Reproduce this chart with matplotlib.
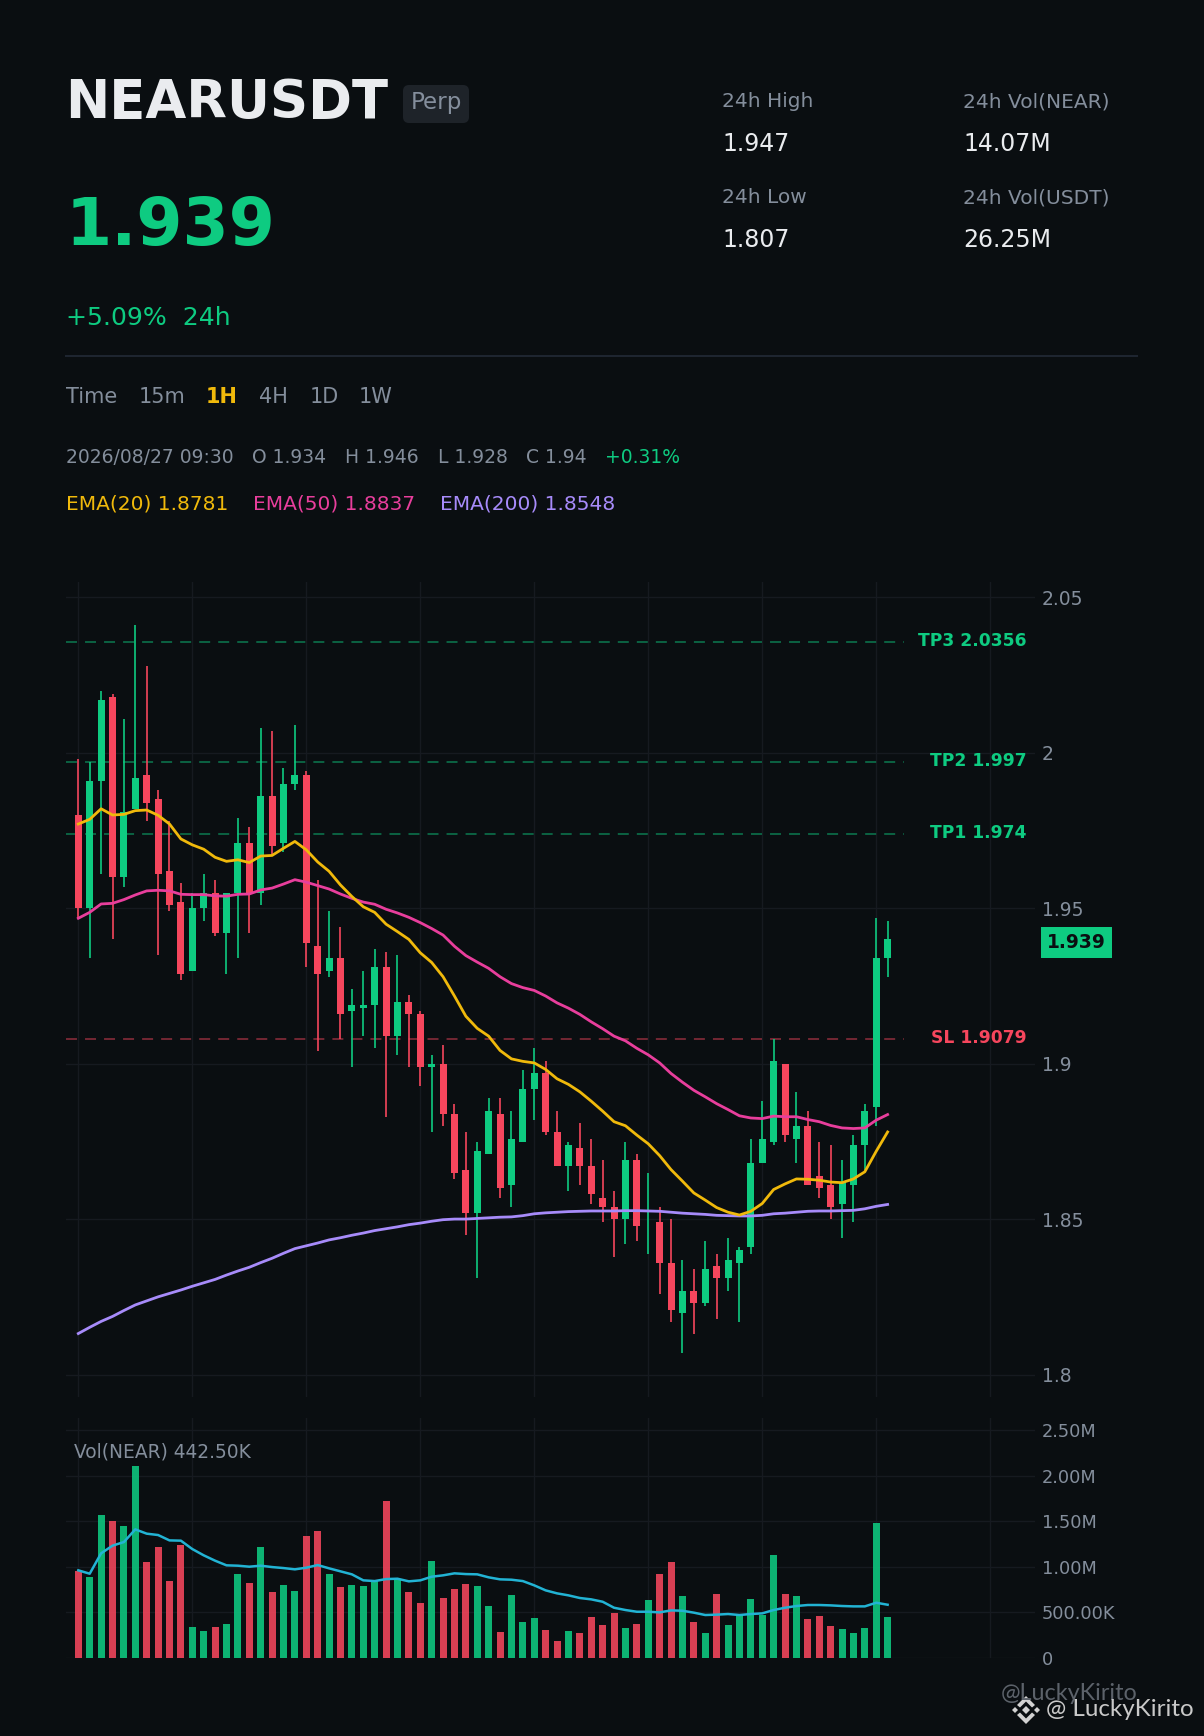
import matplotlib
matplotlib.use('Agg')
import matplotlib.pyplot as plt
from matplotlib.patches import FancyBboxPatch, Polygon, Rectangle

# candles, oldest first
opens = [1.980, 1.950, 1.991, 2.018, 1.960, 1.982, 1.993, 1.985, 1.962, 1.952, 1.930, 1.950,
         1.955, 1.942, 1.955, 1.971, 1.955, 1.986, 1.971, 1.990, 1.993, 1.938, 1.930, 1.934,
         1.917, 1.918, 1.919, 1.931, 1.909, 1.920, 1.916, 1.899, 1.900, 1.884, 1.866, 1.852,
         1.871, 1.884, 1.861, 1.875, 1.892, 1.897, 1.878, 1.867, 1.873, 1.867, 1.857, 1.854,
         1.850, 1.869, 1.848, 1.849, 1.836, 1.820, 1.827, 1.823, 1.835, 1.831, 1.836, 1.841,
         1.868, 1.875, 1.900, 1.876, 1.880, 1.864, 1.861, 1.855, 1.861, 1.874, 1.886, 1.934]
highs = [1.998, 1.997, 2.020, 2.019, 2.011, 2.041, 2.028, 1.988, 1.978, 1.958, 1.955, 1.961,
         1.959, 1.955, 1.979, 1.976, 2.008, 2.007, 1.995, 2.009, 1.994, 1.959, 1.949, 1.944,
         1.924, 1.930, 1.937, 1.936, 1.935, 1.922, 1.917, 1.903, 1.906, 1.887, 1.878, 1.875,
         1.889, 1.889, 1.885, 1.898, 1.905, 1.901, 1.885, 1.875, 1.881, 1.876, 1.869, 1.859,
         1.875, 1.871, 1.865, 1.854, 1.850, 1.837, 1.834, 1.843, 1.839, 1.844, 1.841, 1.876,
         1.888, 1.908, 1.900, 1.891, 1.885, 1.875, 1.874, 1.869, 1.877, 1.887, 1.947, 1.946]
lows = [1.947, 1.934, 1.961, 1.940, 1.957, 1.982, 1.978, 1.935, 1.949, 1.927, 1.930, 1.946,
        1.941, 1.929, 1.934, 1.942, 1.951, 1.967, 1.968, 1.988, 1.931, 1.904, 1.928, 1.908,
        1.899, 1.909, 1.905, 1.883, 1.903, 1.899, 1.893, 1.878, 1.880, 1.863, 1.845, 1.831,
        1.871, 1.857, 1.854, 1.875, 1.882, 1.877, 1.867, 1.859, 1.861, 1.855, 1.849, 1.838,
        1.842, 1.843, 1.839, 1.826, 1.817, 1.807, 1.813, 1.822, 1.818, 1.827, 1.817, 1.839,
        1.868, 1.874, 1.875, 1.868, 1.861, 1.857, 1.850, 1.844, 1.849, 1.866, 1.880, 1.928]
closes = [1.950, 1.991, 2.017, 1.960, 1.981, 1.992, 1.984, 1.961, 1.951, 1.929, 1.950, 1.955,
          1.942, 1.955, 1.971, 1.955, 1.986, 1.970, 1.990, 1.993, 1.939, 1.929, 1.934, 1.916,
          1.919, 1.919, 1.931, 1.909, 1.920, 1.916, 1.899, 1.900, 1.884, 1.865, 1.852, 1.872,
          1.885, 1.860, 1.876, 1.892, 1.897, 1.878, 1.867, 1.874, 1.867, 1.858, 1.854, 1.850,
          1.869, 1.848, 1.848, 1.836, 1.821, 1.827, 1.823, 1.834, 1.831, 1.837, 1.840, 1.868,
          1.876, 1.901, 1.877, 1.880, 1.861, 1.860, 1.854, 1.862, 1.874, 1.885, 1.934, 1.940]

ema20 = [1.9771, 1.9786, 1.9820, 1.9800, 1.9802, 1.9814, 1.9816, 1.9799, 1.9771, 1.9723, 1.9704, 1.9690,
         1.9664, 1.9651, 1.9656, 1.9647, 1.9668, 1.9670, 1.9693, 1.9715, 1.9688, 1.9649, 1.9619, 1.9575,
         1.9538, 1.9505, 1.9487, 1.9449, 1.9425, 1.9400, 1.9357, 1.9326, 1.9280, 1.9218, 1.9153, 1.9114,
         1.9089, 1.9043, 1.9016, 1.9008, 1.9003, 1.8982, 1.8952, 1.8934, 1.8910, 1.8880, 1.8848, 1.8814,
         1.8801, 1.8771, 1.8743, 1.8705, 1.8660, 1.8623, 1.8585, 1.8562, 1.8538, 1.8523, 1.8514, 1.8526,
         1.8551, 1.8596, 1.8614, 1.8630, 1.8629, 1.8626, 1.8620, 1.8618, 1.8630, 1.8653, 1.8719, 1.8781]
ema50 = [1.9468, 1.9487, 1.9514, 1.9516, 1.9528, 1.9543, 1.9556, 1.9558, 1.9556, 1.9545, 1.9544, 1.9544,
         1.9540, 1.9539, 1.9545, 1.9546, 1.9559, 1.9565, 1.9578, 1.9592, 1.9584, 1.9573, 1.9562, 1.9546,
         1.9532, 1.9520, 1.9513, 1.9497, 1.9485, 1.9471, 1.9454, 1.9435, 1.9414, 1.9378, 1.9348, 1.9327,
         1.9307, 1.9280, 1.9258, 1.9245, 1.9236, 1.9218, 1.9196, 1.9179, 1.9159, 1.9135, 1.9113, 1.9089,
         1.9074, 1.9050, 1.9029, 1.9003, 1.8969, 1.8941, 1.8915, 1.8894, 1.8872, 1.8853, 1.8833, 1.8826,
         1.8824, 1.8832, 1.8830, 1.8830, 1.8821, 1.8814, 1.8802, 1.8794, 1.8792, 1.8794, 1.8819, 1.8837]
ema200 = [1.8133, 1.8153, 1.8172, 1.8188, 1.8207, 1.8225, 1.8238, 1.8251, 1.8262, 1.8273, 1.8285, 1.8296,
          1.8307, 1.8321, 1.8334, 1.8346, 1.8361, 1.8375, 1.8391, 1.8406, 1.8415, 1.8424, 1.8434, 1.8441,
          1.8449, 1.8456, 1.8464, 1.8470, 1.8476, 1.8483, 1.8488, 1.8494, 1.8499, 1.8501, 1.8501, 1.8503,
          1.8505, 1.8507, 1.8508, 1.8512, 1.8518, 1.8521, 1.8523, 1.8525, 1.8526, 1.8527, 1.8527, 1.8527,
          1.8528, 1.8528, 1.8527, 1.8526, 1.8523, 1.8520, 1.8518, 1.8516, 1.8513, 1.8512, 1.8511, 1.8511,
          1.8513, 1.8518, 1.8520, 1.8523, 1.8526, 1.8527, 1.8527, 1.8528, 1.8529, 1.8534, 1.8542, 1.8548]

# volume in millions
volumes = [0.952, 0.886, 1.568, 1.498, 1.447, 2.106, 1.051, 1.216, 0.842, 1.238, 0.337, 0.293,
           0.337, 0.370, 0.919, 0.821, 1.216, 0.722, 0.799, 0.733, 1.337, 1.392, 0.919, 0.777,
           0.799, 0.788, 0.853, 1.722, 0.864, 0.722, 0.601, 1.062, 0.656, 0.755, 0.810, 0.788,
           0.568, 0.282, 0.689, 0.392, 0.436, 0.304, 0.183, 0.293, 0.271, 0.447, 0.359, 0.491,
           0.326, 0.370, 0.634, 0.919, 1.051, 0.678, 0.392, 0.271, 0.700, 0.359, 0.469, 0.645,
           0.469, 1.128, 0.700, 0.678, 0.425, 0.458, 0.348, 0.315, 0.271, 0.326, 1.480, 0.4425]
vol_ma = [0.960, 0.923, 1.147, 1.231, 1.271, 1.410, 1.363, 1.348, 1.289, 1.286, 1.194, 1.125,
          1.066, 1.015, 1.011, 1.000, 1.011, 0.996, 0.985, 0.971, 0.989, 1.018, 0.982, 0.949,
          0.916, 0.850, 0.842, 0.864, 0.868, 0.839, 0.850, 0.890, 0.905, 0.927, 0.919, 0.916,
          0.883, 0.861, 0.857, 0.842, 0.795, 0.740, 0.707, 0.685, 0.656, 0.641, 0.615, 0.549,
          0.524, 0.505, 0.505, 0.498, 0.520, 0.516, 0.495, 0.469, 0.473, 0.480, 0.469, 0.480,
          0.487, 0.524, 0.549, 0.568, 0.579, 0.579, 0.575, 0.568, 0.564, 0.564, 0.604, 0.582]

levels = [('TP3', 2.0356), ('TP2', 1.997), ('TP1', 1.974), ('SL', 1.9079)]
price_ticks = [2.05, 2.0, 1.95, 1.9, 1.85, 1.8]
price_labels = ['2.05', '2', '1.95', '1.9', '1.85', '1.8']
vol_ticks = [0, 0.5, 1.0, 1.5, 2.0, 2.5]
vol_labels = ['0', '500.00K', '1.00M', '1.50M', '2.00M', '2.50M']
x_grid = [0, 10, 20, 30, 40, 50, 60, 70, 80]

BG = '#0a0e11'
GRID = '#161a20'
GREEN = '#0ecb81'
RED = '#f6465d'
GREY = '#848e9c'
YELLOW = '#f0b90b'
PINK = '#e83e9c'
PURPLE = '#a78bfa'
CYAN = '#22b3d4'
W, H = 1204, 1736

plt.rcParams['font.family'] = ['DejaVu Sans']
plt.rcParams['lines.scale_dashes'] = False

fig = plt.figure(figsize=(W / 100, H / 100), dpi=100, facecolor=BG)


def px_axes(left, top, right, bottom):
    return fig.add_axes([left / W, 1 - bottom / H, (right - left) / W, (bottom - top) / H])


def style_axes(ax, ticks, labels, size):
    ax.set_facecolor(BG)
    for s in ax.spines.values():
        s.set_visible(False)
    ax.set_xlim(-1.08, 83.93)
    ax.set_xticks(x_grid)
    ax.set_xticklabels([])
    ax.set_yticks(ticks)
    ax.set_yticklabels(labels)
    ax.yaxis.tick_right()
    ax.tick_params(length=0, colors=GREY, labelsize=size, pad=4.9)
    ax.grid(True, color=GRID, lw=1.0)
    ax.set_axisbelow(True)


xs = list(range(len(closes)))
colors = [GREEN if c >= o else RED for o, c in zip(opens, closes)]

# price panel
ax = px_axes(66, 582, 1035, 1397)
ax.set_ylim(1.7929, 2.0549)
style_axes(ax, price_ticks, price_labels, 13.5)

for name, value in levels:
    col = RED if name == 'SL' else GREEN
    ax.plot([-1.08, 72.4], [value, value], color=col, lw=1.25, alpha=0.5,
            linestyle=(0, (7.9, 5.8)), zorder=1)
    ax.text(0.9917, value + 0.0003, f'{name} {value}', color=col, fontsize=12.3, fontweight='bold',
            ha='right', va='center', transform=ax.get_yaxis_transform())

ax.vlines(xs, lows, highs, colors=colors, lw=1.4, alpha=0.85, zorder=2)
ax.bar(xs, [c - o for o, c in zip(opens, closes)], bottom=opens, width=0.614, color=colors,
       linewidth=0, zorder=3)
ax.plot(xs, ema200, color=PURPLE, lw=2.0, zorder=4)
ax.plot(xs, ema50, color=PINK, lw=2.0, zorder=4)
ax.plot(xs, ema20, color=YELLOW, lw=2.0, zorder=4)

# volume panel
vax = px_axes(66, 1418, 1035, 1657.7)
vax.set_ylim(0, 2.634)
style_axes(vax, vol_ticks, vol_labels, 12.8)
vax.bar(xs, volumes, width=0.614, color=colors, linewidth=0, alpha=0.88, zorder=3)
vax.plot(xs, vol_ma, color=CYAN, lw=1.8, zorder=4)

# header and overlays, in pixel coordinates
ov = fig.add_axes([0, 0, 1, 1], zorder=10)
ov.set_xlim(0, W)
ov.set_ylim(H, 0)
ov.axis('off')


def label(x, y, s, color=GREY, size=14.5, weight='normal', ha='left', va='baseline', **kw):
    ov.text(x, y, s, color=color, fontsize=size, fontweight=weight, ha=ha, va=va, **kw)


label(65.5, 118, 'NEARUSDT', '#eaecef', 38.1, 'bold')
ov.add_patch(FancyBboxPatch((409, 91), 54, 26, boxstyle='round,pad=6,rounding_size=6',
                            fc='#1e2329', ec='none'))
label(436, 103, 'Perp', GREY, 16.6, ha='center', va='center')
label(65.5, 245, '1.939', GREEN, 47.8, 'bold')
label(65.5, 325, '+5.09%  24h', GREEN, 18.1)

label(722, 107, '24h High')
label(722, 151, '1.947', '#eaecef', 17)
label(722, 203, '24h Low')
label(722, 247, '1.807', '#eaecef', 17)
label(963, 107, '24h Vol(NEAR)')
label(963, 151, '14.07M', '#eaecef', 17)
label(963, 203, '24h Vol(USDT)')
label(963, 247, '26.25M', '#eaecef', 17)

ov.add_patch(Rectangle((65, 355), 1073, 1.6, fc='#1e2530', ec='none'))

label(66, 403, 'Time', size=15)
label(138.5, 403, '15m', size=15)
label(206, 403, '1H', YELLOW, 15, 'bold')
label(259, 403, '4H', size=15)
label(310, 403, '1D', size=15)
label(359, 403, '1W', size=15)

label(66, 463, '2026/08/27 09:30', size=13.5)
label(252, 463, 'O 1.934', size=13.5)
label(345, 463, 'H 1.946', size=13.5)
label(438, 463, 'L 1.928', size=13.5)
label(526, 463, 'C 1.94', size=13.5)
label(605, 463, '+0.31%', GREEN, 13.5)

label(66, 510, 'EMA(20) 1.8781', YELLOW, 14.5)
label(253, 510, 'EMA(50) 1.8837', PINK, 14.5)
label(440, 510, 'EMA(200) 1.8548', PURPLE, 14.5)

# last price tag
ov.add_patch(Rectangle((1041, 927), 71, 31, fc=GREEN, ec='none'))
label(1076.5, 942.5, '1.939', '#0a0e11', 13.4, 'bold', ha='center', va='center')

label(74, 1451.5, 'Vol(NEAR) 442.50K', GREY, 13.45, va='center')

# watermark
label(1001, 1693, '@LuckyKirito', '#5c626a', 16.8, va='center', family='Lato')
label(1046, 1710, '@ LuckyKirito', '#c9c9c9', 17.4, va='center', family='Lato')
cx, cy = 1026, 1710
for dx, dy, r in [(0, 0, 4), (-11, 0, 3), (11, 0, 3)]:
    ov.add_patch(Polygon([(cx + dx - r, cy + dy), (cx + dx, cy + dy - r), (cx + dx + r, cy + dy),
                          (cx + dx, cy + dy + r)], fc='#d2d2d2', ec='none'))
for sign in (-1, 1):
    ov.add_patch(Polygon([(cx - 9, cy + sign * 5), (cx, cy + sign * 14), (cx + 9, cy + sign * 5),
                          (cx + 6, cy + sign * 2.5), (cx, cy + sign * 8.5), (cx - 6, cy + sign * 2.5)],
                         fc='#d2d2d2', ec='none'))

fig.savefig('out.png', dpi=100, facecolor=BG)
